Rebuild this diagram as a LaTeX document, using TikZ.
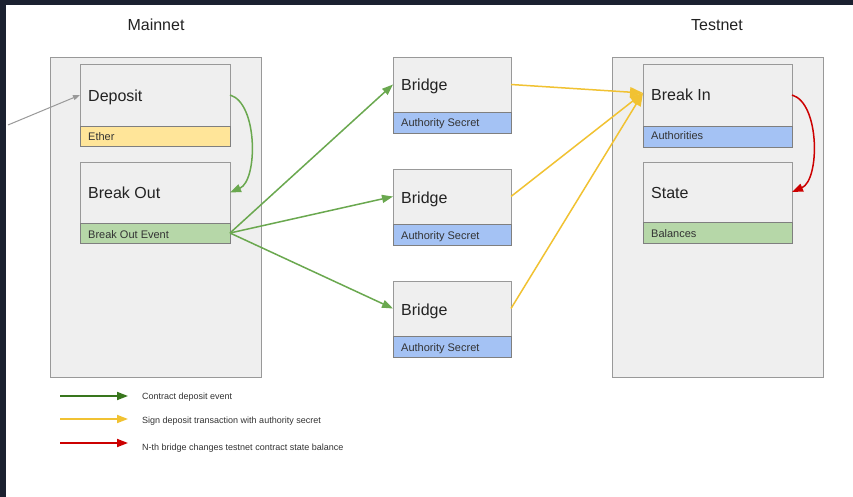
\documentclass[tikz,border=0pt]{standalone}
\usepackage{fontspec}
\setmainfont{Liberation Sans}
\usetikzlibrary{arrows.meta}
\definecolor{frame}{HTML}{1B2130}
\definecolor{boxfill}{HTML}{EFEFEF}
\definecolor{boxline}{HTML}{999999}
\definecolor{bandline}{HTML}{7F7F7F}
\definecolor{bandyellow}{HTML}{FFE599}
\definecolor{bandblue}{HTML}{A4C2F4}
\definecolor{bandgreen}{HTML}{B6D7A8}
\definecolor{txt}{HTML}{222222}
\definecolor{smalltxt}{HTML}{333333}
\definecolor{arrgreen}{HTML}{6AA84F}
\definecolor{arryellow}{HTML}{F1C232}
\definecolor{arrred}{HTML}{CC0000}
\definecolor{leggreen}{HTML}{38761D}
\definecolor{arrgray}{HTML}{999999}
\tikzset{
  container/.style={draw=boxline, fill=boxfill, line width=0.9pt, inner sep=0pt, outer sep=0pt, anchor=north west},
  bodybox/.style={draw=boxline, fill=boxfill, line width=0.9pt, inner sep=0pt, outer sep=0pt, anchor=north west},
  bandbox/.style={draw=bandline, fill=#1, line width=0.9pt, inner sep=0pt, outer sep=0pt, anchor=north west},
  titletext/.style={font=\fontsize{16}{19}\selectfont, text=txt, inner sep=0pt},
  maintext/.style={font=\fontsize{16}{19}\selectfont, text=txt, anchor=base west, inner sep=0pt},
  bandtext/.style={font=\fontsize{11}{13}\selectfont, text=smalltxt, anchor=base west, inner sep=0pt},
  legtext/.style={font=\fontsize{9}{11}\selectfont, text=smalltxt, anchor=west, inner sep=0pt},
  garrow/.style={draw=arrgreen, line width=1.5pt, -{Triangle[length=11pt,width=8pt]}},
  yarrow/.style={draw=arryellow, line width=1.5pt, -{Triangle[length=13pt,width=10pt]}},
  rarrow/.style={draw=arrred, line width=1.5pt, -{Triangle[length=11pt,width=8pt]}},
  grayarrow/.style={draw=arrgray, line width=1pt, -{Triangle[length=7pt,width=5pt]}},
  legarrow/.style={draw=#1, line width=1.8pt, -{Triangle[length=11pt,width=8pt]}},
}
\begin{document}
\begin{tikzpicture}[x=1pt,y=-1pt]
\useasboundingbox (0,0) rectangle (853,497);
\fill[white] (0,0) rectangle (853,497);
\fill[frame] (0,0) rectangle (853,5);
\fill[frame] (0,0) rectangle (6,497);

% titles
\node[titletext] (tmain) at (156,25) {Mainnet};
\node[titletext] (ttest) at (717,25) {Testnet};

% containers
\node[container, minimum width=211pt, minimum height=320pt] (cmain) at (50,57) {};
\node[container, minimum width=211pt, minimum height=320pt] (ctest) at (612,57) {};

% Mainnet boxes
\node[bodybox, minimum width=150pt, minimum height=62pt] (dep) at (80,64) {};
\node[bandbox=bandyellow, minimum width=150pt, minimum height=20pt] (depb) at (80,126) {};
\node[maintext] (dept) at (88,102) {Deposit};
\node[bandtext] (depbt) at (88,141) {Ether};

\node[bodybox, minimum width=150pt, minimum height=61pt] (bo) at (80,162) {};
\node[bandbox=bandgreen, minimum width=150pt, minimum height=20pt] (bob) at (80,223) {};
\node[maintext] (bot) at (88,198) {Break Out};
\node[bandtext] (bobt) at (88,238) {Break Out Event};

% Bridges
\node[bodybox, minimum width=118pt, minimum height=55pt] (br1) at (393,57) {};
\node[bandbox=bandblue, minimum width=118pt, minimum height=21pt] (br1b) at (393,112) {};
\node[maintext] (br1t) at (401,91) {Bridge};
\node[bandtext] (br1bt) at (401,127) {Authority Secret};

\node[bodybox, minimum width=118pt, minimum height=55pt] (br2) at (393,169) {};
\node[bandbox=bandblue, minimum width=118pt, minimum height=21pt] (br2b) at (393,224) {};
\node[maintext] (br2t) at (401,203) {Bridge};
\node[bandtext] (br2bt) at (401,239) {Authority Secret};

\node[bodybox, minimum width=118pt, minimum height=55pt] (br3) at (393,281) {};
\node[bandbox=bandblue, minimum width=118pt, minimum height=21pt] (br3b) at (393,336) {};
\node[maintext] (br3t) at (401,315) {Bridge};
\node[bandtext] (br3bt) at (401,351) {Authority Secret};

% Testnet boxes
\node[bodybox, minimum width=149pt, minimum height=62pt] (bin) at (643,64) {};
\node[bandbox=bandblue, minimum width=149pt, minimum height=21pt] (binb) at (643,126) {};
\node[maintext] (bint) at (651,101) {Break In};
\node[bandtext] (binbt) at (651,140) {Authorities};

\node[bodybox, minimum width=149pt, minimum height=60pt] (st) at (643,162) {};
\node[bandbox=bandgreen, minimum width=149pt, minimum height=21pt] (stb) at (643,222) {};
\node[maintext] (stt) at (651,198) {State};
\node[bandtext] (stbt) at (651,237) {Balances};

% connectors
\coordinate (ext) at (8,125);
\draw[grayarrow] (ext) -- (dep.west);
\draw[garrow] (dep.east) .. controls +(28,8) and +(28,-12) .. (bo.east);
\draw[garrow] (bob.east) -- (br1.west);
\draw[garrow] (bob.east) -- (br2.west);
\draw[garrow] (bob.east) -- (br3.west);
\draw[yarrow] (br1.east) -- ([yshift=2pt]bin.west);
\draw[yarrow] (br2.east) -- ([yshift=2pt]bin.west);
\draw[yarrow] (br3.east) -- ([yshift=2pt]bin.west);
\draw[rarrow] (bin.east) .. controls +(28,8) and +(28,-12) .. (st.east);

% legend
\coordinate (l1a) at (60,396); \coordinate (l1b) at (128,396);
\coordinate (l2a) at (60,419); \coordinate (l2b) at (128,419);
\coordinate (l3a) at (60,443); \coordinate (l3b) at (128,443);
\draw[legarrow=leggreen] (l1a) -- (l1b);
\draw[legarrow=arryellow] (l2a) -- (l2b);
\draw[legarrow=arrred] (l3a) -- (l3b);
\node[legtext] (lg1) at (142,397) {Contract deposit event};
\node[legtext] (lg2) at (142,421) {Sign deposit transaction with authority secret};
\node[legtext] (lg3) at (142,448) {N-th bridge changes testnet contract state balance};
\end{tikzpicture}
\end{document}
